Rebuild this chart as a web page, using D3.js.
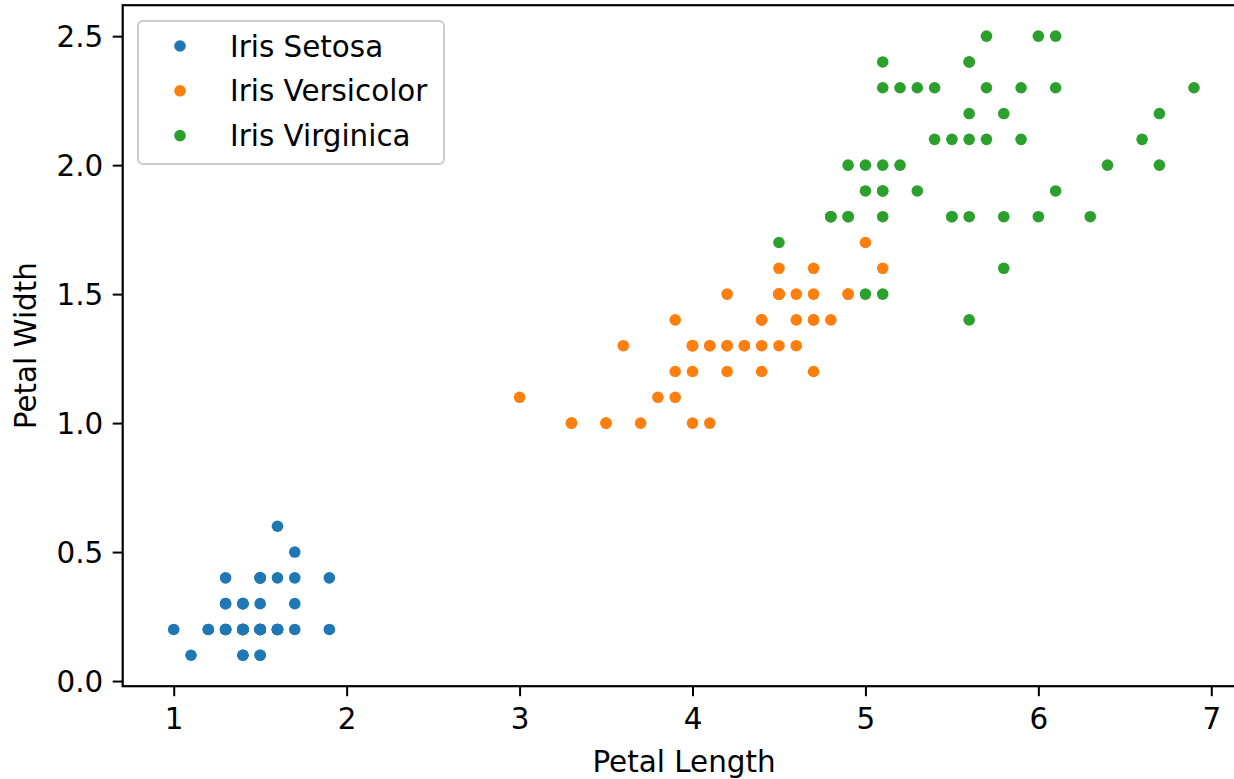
<!DOCTYPE html>
<html>
<head>
<meta charset="utf-8">
<script src="https://cdn.jsdelivr.net/npm/d3@7"></script>
<style>
  html, body { margin: 0; padding: 0; background: #fff; }
  svg { display: block; }
  text { font-family: "DejaVu Sans", sans-serif; fill: #000; }
</style>
</head>
<body>
<svg id="chart" width="1234" height="779"></svg>
<script>
// Iris petal measurements (cm), one pair of arrays per species
const setosaLength = [1.4,1.4,1.3,1.5,1.4,1.7,1.4,1.5,1.4,1.5,1.5,1.6,1.4,1.1,1.2,1.5,1.3,1.4,1.7,1.5,1.7,1.5,1.0,1.7,1.9,1.6,1.6,1.5,1.4,1.6,1.6,1.5,1.5,1.4,1.5,1.2,1.3,1.4,1.3,1.5,1.3,1.3,1.3,1.6,1.9,1.4,1.6,1.4,1.5,1.4];
const setosaWidth  = [0.2,0.2,0.2,0.2,0.2,0.4,0.3,0.2,0.2,0.1,0.2,0.2,0.1,0.1,0.2,0.4,0.4,0.3,0.3,0.3,0.2,0.4,0.2,0.5,0.2,0.2,0.4,0.2,0.2,0.2,0.2,0.4,0.1,0.2,0.2,0.2,0.2,0.1,0.2,0.2,0.3,0.3,0.2,0.6,0.4,0.3,0.2,0.2,0.2,0.2];

const versicolorLength = [4.7,4.5,4.9,4.0,4.6,4.5,4.7,3.3,4.6,3.9,3.5,4.2,4.0,4.7,3.6,4.4,4.5,4.1,4.5,3.9,4.8,4.0,4.9,4.7,4.3,4.4,4.8,5.0,4.5,3.5,3.8,3.7,3.9,5.1,4.5,4.5,4.7,4.4,4.1,4.0,4.4,4.6,4.0,3.3,4.2,4.2,4.2,4.3,3.0,4.1];
const versicolorWidth  = [1.4,1.5,1.5,1.3,1.5,1.3,1.6,1.0,1.3,1.4,1.0,1.5,1.0,1.4,1.3,1.4,1.5,1.0,1.5,1.1,1.8,1.3,1.5,1.2,1.3,1.4,1.4,1.7,1.5,1.0,1.1,1.0,1.2,1.6,1.5,1.6,1.5,1.3,1.3,1.3,1.2,1.4,1.2,1.0,1.3,1.2,1.3,1.3,1.1,1.3];

const virginicaLength = [6.0,5.1,5.9,5.6,5.8,6.6,4.5,6.3,5.8,6.1,5.1,5.3,5.5,5.0,5.1,5.3,5.5,6.7,6.9,5.0,5.7,4.9,6.7,4.9,5.7,6.0,4.8,4.9,5.6,5.8,6.1,6.4,5.6,5.1,5.6,6.1,5.6,5.5,4.8,5.4,5.6,5.1,5.1,5.9,5.7,5.2,5.0,5.2,5.4,5.1];
const virginicaWidth  = [2.5,1.9,2.1,1.8,2.2,2.1,1.7,1.8,1.8,2.5,2.0,1.9,2.1,2.0,2.4,2.3,1.8,2.2,2.3,1.5,2.3,2.0,2.0,1.8,2.1,1.8,1.8,1.8,2.1,1.6,1.9,2.0,2.2,1.5,1.4,2.3,2.4,1.8,1.8,2.1,2.4,2.3,1.9,2.3,2.5,2.3,1.9,2.0,2.3,1.8];

const seriesNames  = ["Iris Setosa", "Iris Versicolor", "Iris Virginica"];
const seriesColors = ["#1f77b4", "#ff7f0e", "#2ca02c"];
const xTicks = [1, 2, 3, 4, 5, 6, 7];
const yTicks = [0.0, 0.5, 1.0, 1.5, 2.0, 2.5];
const xTitle = "Petal Length";
const yTitle = "Petal Width";

const series = [
  { name: seriesNames[0], color: seriesColors[0], xs: setosaLength, ys: setosaWidth },
  { name: seriesNames[1], color: seriesColors[1], xs: versicolorLength, ys: versicolorWidth },
  { name: seriesNames[2], color: seriesColors[2], xs: virginicaLength, ys: virginicaWidth }
];

const svg = d3.select("#chart");
const FONT = 29.4;
const R = 5.8;

// Plot box (right edge runs past the figure)
const boxLeft = 122.7, boxRight = 1245, boxTop = 5.2, boxBottom = 686.2;

// Domains padded 5% around the data, as a default autoscale would
const allX = series.flatMap(s => s.xs), allY = series.flatMap(s => s.ys);
const [x0, x1] = d3.extent(allX), [y0, y1] = d3.extent(allY);
const px = (x1 - x0) * 0.05, py = (y1 - y0) * 0.05;
const x = d3.scaleLinear().domain([x0 - px, x1 + px]).range([boxLeft, boxRight]);
const y = d3.scaleLinear().domain([y0 - py, y1 + py]).range([boxBottom, boxTop]);

// Points
const plot = svg.append("g");
series.forEach(s => {
  plot.append("g").selectAll("circle")
    .data(d3.range(s.xs.length))
    .join("circle")
    .attr("cx", i => x(s.xs[i]))
    .attr("cy", i => y(s.ys[i]))
    .attr("r", R)
    .attr("fill", s.color);
});

// Axes
const xAxis = d3.axisBottom(x).tickValues(xTicks).tickFormat(d3.format("d")).tickSize(10).tickPadding(11.5);
const yAxis = d3.axisLeft(y).tickValues(yTicks).tickFormat(d3.format(".1f")).tickSize(10).tickPadding(9.5);

const gx = svg.append("g").attr("transform", `translate(0,${boxBottom})`).call(xAxis);
const gy = svg.append("g").attr("transform", `translate(${boxLeft},0)`).call(yAxis);
[gx, gy].forEach(g => {
  g.select(".domain").remove();
  g.selectAll(".tick line").attr("stroke", "#000").attr("stroke-width", 2);
  g.selectAll(".tick text").attr("font-size", FONT).attr("font-family", "DejaVu Sans").attr("fill", "#000");
});
gy.selectAll(".tick text").attr("dy", "0.36em");

// Spines
svg.append("rect")
  .attr("x", boxLeft).attr("y", boxTop)
  .attr("width", boxRight - boxLeft).attr("height", boxBottom - boxTop)
  .attr("fill", "none").attr("stroke", "#000").attr("stroke-width", 2.2);

// Axis titles
svg.append("text")
  .attr("x", 684).attr("y", 772)
  .attr("text-anchor", "middle").attr("font-size", FONT)
  .text(xTitle);
svg.append("text")
  .attr("transform", `translate(36,${(boxTop + boxBottom) / 2}) rotate(-90)`)
  .attr("text-anchor", "middle").attr("font-size", FONT)
  .text(yTitle);

// Legend
const lg = svg.append("g");
lg.append("rect")
  .attr("x", 138).attr("y", 21).attr("width", 306).attr("height", 143)
  .attr("rx", 5).attr("ry", 5)
  .attr("fill", "#fff").attr("fill-opacity", 0.8)
  .attr("stroke", "#cccccc").attr("stroke-width", 2);
series.forEach((s, i) => {
  const cy = 46 + i * 44.8;
  lg.append("circle").attr("cx", 180).attr("cy", cy).attr("r", R).attr("fill", s.color);
  lg.append("text").attr("x", 230).attr("y", cy).attr("dy", "0.36em")
    .attr("font-size", FONT).text(s.name);
});
</script>
</body>
</html>
